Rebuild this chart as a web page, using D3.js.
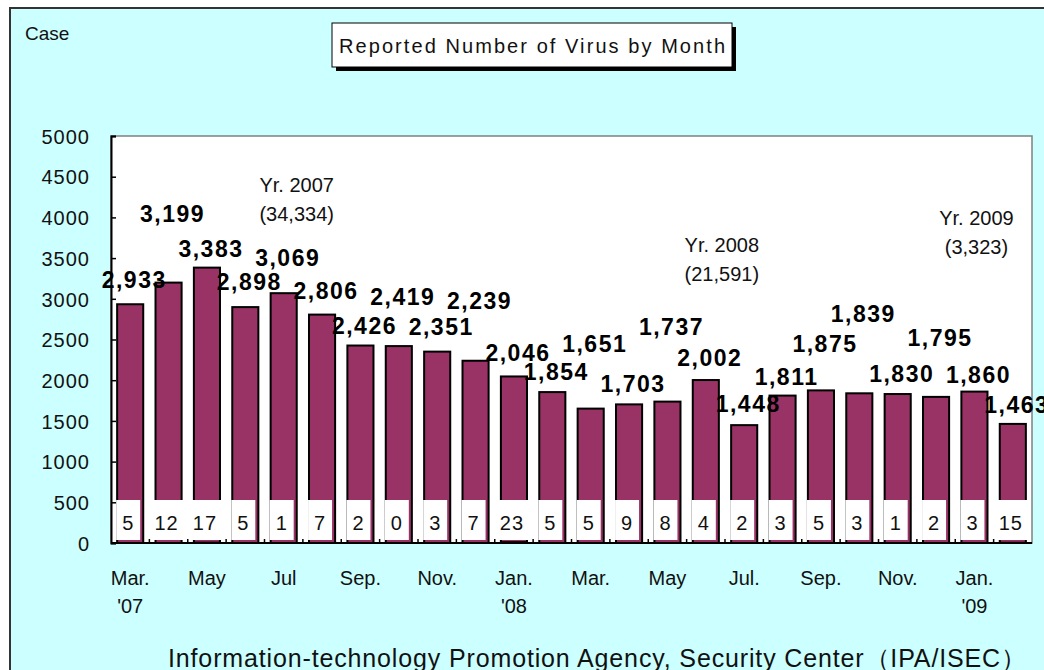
<!DOCTYPE html>
<html>
<head>
<meta charset="utf-8">
<script src="https://cdn.jsdelivr.net/npm/d3@7/dist/d3.min.js"></script>
<style>
  body { margin: 0; background: #fff; }
  svg { display: block; font-family: "Liberation Sans", Arial, sans-serif; }
</style>
</head>
<body>
<div class="chart"></div>
<script>
// months on the x axis (Mar. 2007 - Feb. 2009)
var months = ["2007-03", "2007-04", "2007-05", "2007-06", "2007-07", "2007-08", "2007-09", "2007-10",
  "2007-11", "2007-12", "2008-01", "2008-02", "2008-03", "2008-04", "2008-05", "2008-06",
  "2008-07", "2008-08", "2008-09", "2008-10", "2008-11", "2008-12", "2009-01", "2009-02"];

// reported number of virus per month (purple bars)
var reported = [2933, 3199, 3383, 2898, 3069, 2806, 2426, 2419, 2351, 2239, 2046, 1854,
  1651, 1703, 1737, 2002, 1448, 1811, 1875, 1839, 1830, 1795, 1860, 1463];

// small numbers in the white boxes at the bottom
var small = [5, 12, 17, 5, 1, 7, 2, 0, 3, 7, 23, 5, 5, 9, 8, 4, 2, 3, 5, 3, 1, 2, 3, 15];

// tick labels on the x axis (every other month)
var tickMonths = ["2007-03", "2007-05", "2007-07", "2007-09", "2007-11", "2008-01",
  "2008-03", "2008-05", "2008-07", "2008-09", "2008-11", "2009-01"];
var tickNames = ["Mar.", "May", "Jul", "Sep.", "Nov.", "Jan.", "Mar.", "May", "Jul.", "Sep.", "Nov.", "Jan."];
var tickYears = ["'07", "", "", "", "", "'08", "", "", "", "", "", "'09"];

var yTicks = [0, 500, 1000, 1500, 2000, 2500, 3000, 3500, 4000, 4500, 5000];

// yearly totals shown as notes
var yearNames = ["Yr. 2007", "Yr. 2008", "Yr. 2009"];
var yearTotals = ["(34,334)", "(21,591)", "(3,323)"];

// layout only: how far each value label sits above its bar (px)
var labelLift = [16, 61, 11, 17, 27, 16, 12, 41, 17, 52, 15, 12, 57, 12, 67, 14, 13, 11, 38, 71, 12, 51, 9, 11];
// layout only: where the year notes are anchored (month, value, dx)
var notePlace = [["2007-07", 4310, 13], ["2008-06", 3575, 16], ["2009-01", 3905, 2]];

var W = 1044, H = 670;
var plot = { left: 111, right: 1032, top: 136, bottom: 543 };

var svg = d3.select(".chart").append("svg").attr("width", W).attr("height", H);

// light cyan frame, runs off the right and bottom edges like the original
svg.append("rect")
  .attr("x", 10).attr("y", 8)
  .attr("width", 1060).attr("height", 700)
  .attr("fill", "#ccffff")
  .attr("stroke", "#333").attr("stroke-width", 2);

var x = d3.scaleBand().domain(months).range([plot.left, plot.right]).paddingInner(0.32).paddingOuter(0.16);
var y = d3.scaleLinear().domain([0, 5000]).range([plot.bottom, plot.top]);

// plot area
svg.append("rect")
  .attr("x", plot.left).attr("y", plot.top)
  .attr("width", plot.right - plot.left).attr("height", plot.bottom - plot.top)
  .attr("fill", "#fff")
  .attr("stroke", "#808080").attr("stroke-width", 1.5);

// y axis, ticks point inwards
var yAxis = d3.axisLeft(y).tickValues(yTicks).tickSize(-5).tickPadding(21).tickFormat(d3.format("d"));
var gy = svg.append("g").attr("transform", `translate(${plot.left},0)`).call(yAxis);
gy.select(".domain").attr("stroke", "#000").attr("stroke-width", 2);
gy.selectAll("line").attr("stroke", "#000").attr("stroke-width", 1.5);
gy.selectAll("text")
  .style("font-size", "20px").style("letter-spacing", "1px")
  .attr("fill", "#111").attr("dy", "0.36em");

// bars
svg.selectAll(".bar")
  .data(reported)
  .enter()
  .append("rect")
  .attr("class", "bar")
  .attr("x", (d, i) => x(months[i]))
  .attr("y", d => y(d))
  .attr("width", x.bandwidth())
  .attr("height", d => y(0) - y(d))
  .attr("fill", "#993366")
  .attr("stroke", "#000")
  .attr("stroke-width", 2);

// value labels above the bars
svg.selectAll(".val")
  .data(reported)
  .enter()
  .append("text")
  .attr("class", "val")
  .attr("x", (d, i) => x(months[i]) + x.bandwidth() / 2 + 4)
  .attr("y", (d, i) => y(d) - labelLift[i])
  .attr("text-anchor", "middle")
  .style("font-size", "23px").style("font-weight", "bold").style("letter-spacing", "1.5px")
  .attr("fill", "#000")
  .text(d => d3.format(",")(d));

// white boxes with the small series, plus its (tiny) bars
var boxes = svg.selectAll(".small")
  .data(small)
  .enter()
  .append("g")
  .attr("class", "small")
  .attr("transform", (d, i) => `translate(${x(months[i]) + x.bandwidth() / 2 - 2},0)`);

boxes.append("rect")
  .attr("x", d => -(String(d).length > 1 ? 17 : 12))
  .attr("y", y(0) - 43)
  .attr("width", d => String(d).length > 1 ? 34 : 24)
  .attr("height", 40)
  .attr("fill", "#fff");

boxes.append("rect")
  .attr("x", 2 - x.bandwidth() / 2)
  .attr("y", d => y(d))
  .attr("width", x.bandwidth())
  .attr("height", d => y(0) - y(d))
  .attr("fill", "#000");

boxes.append("text")
  .attr("y", y(0) - 13)
  .attr("text-anchor", "middle")
  .style("font-size", "20px").style("letter-spacing", "1px")
  .attr("fill", "#111")
  .text(d => d);

// x axis line + small inward ticks between months
svg.append("line")
  .attr("x1", plot.left).attr("x2", plot.right)
  .attr("y1", plot.bottom).attr("y2", plot.bottom)
  .attr("stroke", "#000").attr("stroke-width", 2);

var gap = x.step() * x.paddingInner() / 2;
svg.selectAll(".cat-tick")
  .data(months.slice(1))
  .enter()
  .append("line")
  .attr("class", "cat-tick")
  .attr("x1", d => x(d) - gap).attr("x2", d => x(d) - gap)
  .attr("y1", plot.bottom).attr("y2", plot.bottom - 4)
  .attr("stroke", "#000").attr("stroke-width", 1.5);

// month labels
var xAxis = d3.axisBottom(x).tickValues(tickMonths).tickSize(0).tickPadding(28)
  .tickFormat((d, i) => tickNames[i]);
var gx = svg.append("g").attr("transform", `translate(0,${plot.bottom})`).call(xAxis);
gx.select(".domain").remove();
gx.selectAll("text").style("font-size", "20px").attr("fill", "#111");

// year below Mar./Jan.
svg.selectAll(".yr")
  .data(tickYears)
  .enter()
  .append("text")
  .attr("class", "yr")
  .attr("x", (d, i) => x(tickMonths[i]) + x.bandwidth() / 2)
  .attr("y", plot.bottom + 70)
  .attr("text-anchor", "middle")
  .style("font-size", "20px")
  .attr("fill", "#111")
  .text(d => d);

// yearly totals
var notes = svg.selectAll(".note")
  .data(yearNames)
  .enter()
  .append("text")
  .attr("class", "note")
  .attr("text-anchor", "middle")
  .style("font-size", "20px")
  .attr("fill", "#111");
notes.append("tspan")
  .attr("x", (d, i) => x(notePlace[i][0]) + x.bandwidth() / 2 + notePlace[i][2])
  .attr("y", (d, i) => y(notePlace[i][1]))
  .text(d => d);
notes.append("tspan")
  .attr("x", (d, i) => x(notePlace[i][0]) + x.bandwidth() / 2 + notePlace[i][2])
  .attr("y", (d, i) => y(notePlace[i][1]) + 29)
  .text((d, i) => yearTotals[i]);

// unit label
svg.append("text")
  .attr("x", 25).attr("y", 40)
  .style("font-size", "19px")
  .attr("fill", "#111")
  .text("Case");

// title box with drop shadow
svg.append("rect").attr("x", 336).attr("y", 27).attr("width", 400).attr("height", 44).attr("fill", "#000");
svg.append("rect").attr("x", 332).attr("y", 23).attr("width", 400).attr("height", 44)
  .attr("fill", "#fff").attr("stroke", "#000").attr("stroke-width", 1);
svg.append("text")
  .attr("x", 339).attr("y", 53)
  .attr("textLength", 386).attr("lengthAdjust", "spacing")
  .style("font-size", "20px")
  .attr("fill", "#111")
  .text("Reported Number of Virus by Month");

// source
svg.append("text")
  .attr("x", 168).attr("y", 667)
  .attr("textLength", 858).attr("lengthAdjust", "spacing")
  .style("font-size", "25px")
  .attr("fill", "#111")
  .text("Information-technology Promotion Agency, Security Center（IPA/ISEC）");
</script>
</body>
</html>
